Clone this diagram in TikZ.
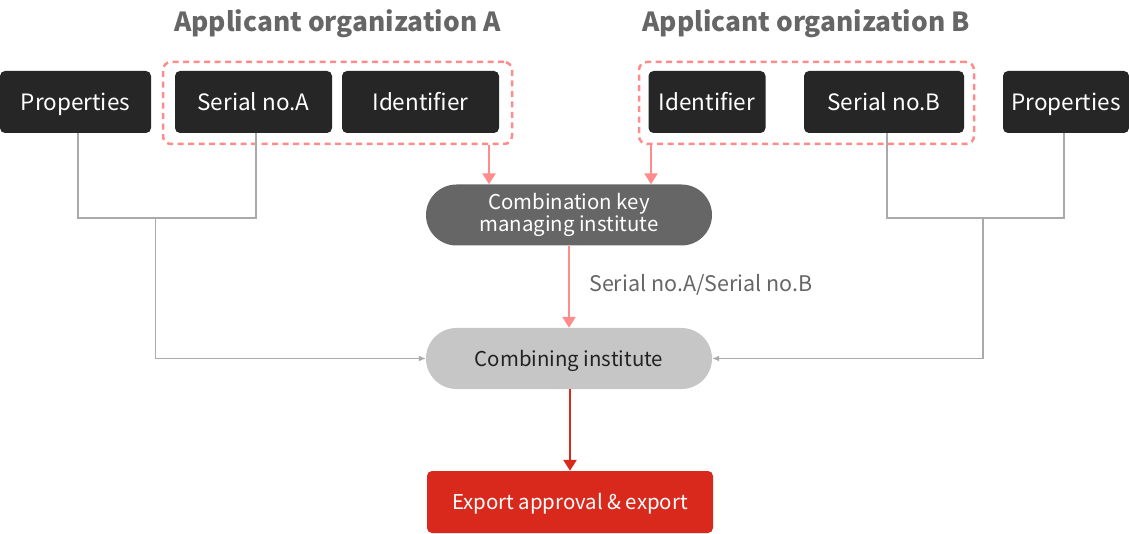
\documentclass[tikz,border=0pt]{standalone}
\usepackage{fontspec}
\setmainfont{Noto Sans CJK KR}
\usetikzlibrary{arrows.meta}
\definecolor{darkbx}{HTML}{262626}
\definecolor{midgray}{HTML}{666666}
\definecolor{lightbx}{HTML}{C6C6C6}
\definecolor{pinkc}{HTML}{FF8C8C}
\definecolor{redbx}{HTML}{D9291C}
\definecolor{linegray}{HTML}{AAAAAA}
\definecolor{textdark}{HTML}{222222}
\begin{document}
\begin{tikzpicture}[x=1pt,y=-1pt,
  darkbox/.style={fill=darkbx, text=white, rounded corners=5pt, minimum height=62pt, inner sep=0pt, text height=20.5pt, text depth=4pt, font=\fontsize{22.5}{26}\selectfont},
  grpbox/.style={draw=pinkc, line width=2.5pt, dash pattern=on 6pt off 4.5pt, rounded corners=8pt, minimum height=82pt, inner sep=0pt},
  titletext/.style={text=midgray, font=\fontsize{26.3}{30}\selectfont\bfseries, inner sep=0pt, anchor=base},
  stadium/.style={rounded corners=30.5pt, minimum width=286pt, minimum height=61pt, inner sep=0pt, font=\fontsize{20.4}{20}\selectfont, align=center},
  onetext/.style={text height=19pt, text depth=4pt},
  conn/.style={draw=linegray, line width=1.3pt},
  connarr/.style={conn, -{Latex[length=7pt,width=6pt]}},
  pinkarr/.style={draw=pinkc, line width=2.5pt, -{Triangle[length=11pt,width=13pt]}},
  redarr/.style={draw=redbx, line width=2.5pt, -{Triangle[length=11pt,width=13pt]}},
  lbl/.style={text=midgray, font=\fontsize{21.5}{24}\selectfont, inner sep=0pt}
]
\useasboundingbox (0,0) rectangle (1129,534);

\node[titletext] (titleA) at (337.5,32) {Applicant organization A};
\node[titletext] (titleB) at (806,32) {Applicant organization B};

\node[darkbox, minimum width=151pt] (propA) at (75.5,102) {Properties};
\node[darkbox, minimum width=157pt] (serA) at (253.5,102) {Serial no.A};
\node[darkbox, minimum width=157pt] (idA) at (420.5,102) {Identifier};
\node[darkbox, minimum width=117pt] (idB) at (707,102) {Identifier};
\node[darkbox, minimum width=160pt] (serB) at (884,102) {Serial no.B};
\node[darkbox, minimum width=126pt] (propB) at (1066,102) {Properties};

\node[grpbox, minimum width=349pt] (grpA) at (337.5,103) {};
\node[grpbox, minimum width=335pt] (grpB) at (806.5,103) {};

\node[stadium, fill=midgray, text=white] (ckm) at (569,215) {\raisebox{-3pt}{Combination key}\\\raisebox{-2pt}{managing institute}};
\node[stadium, onetext, fill=lightbx, text=textdark] (comb) at (569,358.5) {Combining institute};
\node[fill=redbx, text=white, rounded corners=5pt, minimum width=286pt, minimum height=62pt, inner sep=0pt, onetext, font=\fontsize{20.4}{22}\selectfont] (exp) at (570,502) {Export approval \& export};

\draw[pinkarr] (grpA.south -| 489,0) -- (ckm.north -| 489,0);
\draw[pinkarr] (grpB.south -| 651,0) -- (ckm.north -| 651,0);
\draw[pinkarr] (ckm.south) -- node[lbl, anchor=base west, xshift=19pt, yshift=-5pt] {Serial no.A/Serial no.B} (comb.north);
\draw[redarr] (comb.south -| exp.north) -- (exp.north);

\coordinate (jA) at (155.5,218);
\coordinate (jB) at (983,218);
\draw[conn] (propA.south -| 78,0) |- (jA) -| (serA.south -| 256,0);
\draw[connarr] (jA) |- (comb.west);
\draw[conn] (serB.south -| 887,0) |- (jB) -| (propB.south -| 1064,0);
\draw[connarr] (jB) |- (comb.east);
\end{tikzpicture}
\end{document}
